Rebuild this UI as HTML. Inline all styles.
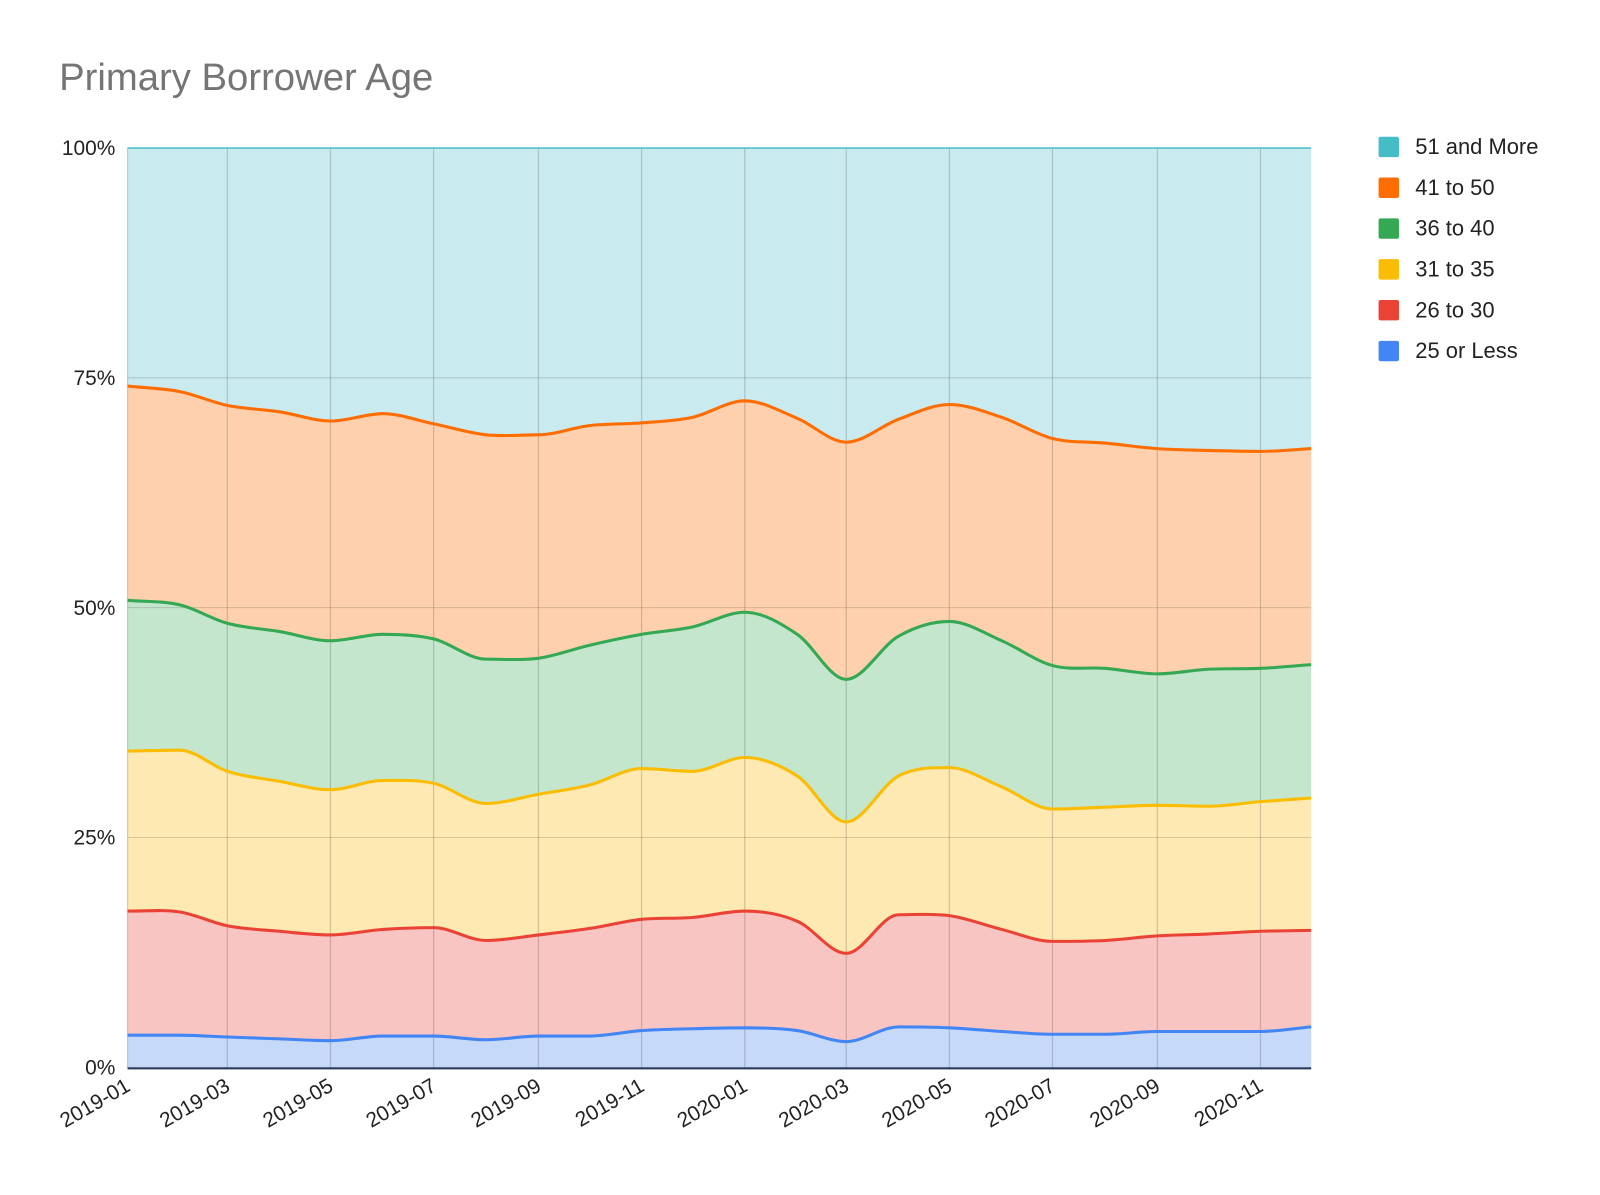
<!DOCTYPE html>
<html><head><meta charset="utf-8">
<style>
html,body{margin:0;padding:0;background:#fff;}
body{width:1600px;height:1190px;overflow:hidden;font-family:"Liberation Sans",Arial,sans-serif;}
</style></head>
<body>
<svg id="chart" width="1600" height="1190" xmlns="http://www.w3.org/2000/svg">
<g transform="scale(1.020408)">
<text x="58" y="88" font-size="37.5" fill="#757575" font-family="Liberation Sans, Arial, sans-serif">Primary Borrower Age</text>
<g id="bands"></g>
<g id="grid"></g>
<g id="lines"></g>
<g id="axes"></g>
<g id="legend"></g>
</g>
</svg>
<script>
const months = ["2019-01","2019-02","2019-03","2019-04","2019-05","2019-06","2019-07","2019-08","2019-09","2019-10","2019-11","2019-12","2020-01","2020-02","2020-03","2020-04","2020-05","2020-06","2020-07","2020-08","2020-09","2020-10","2020-11","2020-12"];
const seriesNames = ["25 or Less","26 to 30","31 to 35","36 to 40","41 to 50","51 and More"];
const age25OrLess = [3.5,3.5,3.3,3.1,2.9,3.4,3.4,3.0,3.4,3.4,4.0,4.2,4.3,4.0,2.8,4.4,4.3,3.9,3.6,3.6,3.9,3.9,3.9,4.4];
const age26to30 = [13.5,13.4,12.1,11.7,11.5,11.6,11.8,10.8,11.0,11.7,12.1,12.1,12.7,11.9,9.6,12.2,12.2,11.1,10.1,10.2,10.4,10.6,10.9,10.5];
const age31to35 = [17.4,17.6,16.8,16.3,15.8,16.2,15.7,14.9,15.3,15.6,16.4,15.9,16.7,15.8,14.3,15.1,16.1,15.5,14.4,14.5,14.2,13.9,14.1,14.4];
const age36to40 = [16.4,15.8,16.1,16.3,16.2,15.9,15.7,15.7,14.8,15.2,14.6,15.7,15.8,15.4,15.5,15.2,15.9,15.9,15.6,15.1,14.3,14.9,14.5,14.5];
const age41to50 = [23.3,23.2,23.7,23.9,23.9,24.0,23.4,24.4,24.3,23.9,23.0,22.8,23.0,23.5,25.8,23.6,23.6,24.3,24.7,24.5,24.5,23.8,23.6,23.5];
const age51Plus = [25.9,26.5,28.0,28.7,29.7,28.9,30.0,31.2,31.2,30.2,29.9,29.3,27.5,29.4,32.0,29.5,27.9,29.3,31.6,32.1,32.7,32.9,33.0,32.7];
const yTicks = [0,25,50,75,100];
const yTickLabels = ["0%","25%","50%","75%","100%"];
const xTickLabels = ["2019-01","2019-03","2019-05","2019-07","2019-09","2019-11","2020-01","2020-03","2020-05","2020-07","2020-09","2020-11"];

const series = [age25OrLess,age26to30,age31to35,age36to40,age41to50,age51Plus];
const lineColors = ["#4285f4","#ea4335","#fbbc04","#34a853","#ff6d01","#46bdc6"];
const fillColors = ["#c6d9f9","#f9c5c2","#fde9b1","#c4e6cc","#fed0ae","#c9ebef"];
const NS = "http://www.w3.org/2000/svg";
const X0=125,X1=1285,Y0=1046,Y1=145;
function toDate(m){const [y,mo]=m.split("-").map(Number);return Date.UTC(y,mo-1,1);}
const d0=toDate(months[0]),d1=toDate(months[months.length-1]);
function xScale(m){return X0+(toDate(m)-d0)/(d1-d0)*(X1-X0);}
function yScale(v){return Y0-v/100*(Y0-Y1);}
function el(tag,attrs,parent){const e=document.createElementNS(NS,tag);for(const k in attrs)e.setAttribute(k,attrs[k]);parent.appendChild(e);return e;}

const cum=[];
for(let s=0;s<series.length;s++){
  cum.push(months.map((m,i)=>{let tot=0,acc=0;for(let k=0;k<series.length;k++){tot+=series[k][i];if(k<=s)acc+=series[k][i];}return acc/tot*100;}));
}
function smooth(pts){
  const n=pts.length;const dx=[],sl=[],t=[];
  for(let i=0;i<n-1;i++){dx.push(pts[i+1][0]-pts[i][0]);sl.push((pts[i+1][1]-pts[i][1])/dx[i]);}
  t[0]=sl[0];t[n-1]=sl[n-2];
  for(let i=1;i<n-1;i++){t[i]=(sl[i-1]*sl[i]<=0)?0:(sl[i-1]+sl[i])/2;}
  let d="";
  for(let i=0;i<n-1;i++){const h=dx[i]/3;
    d+=` C${pts[i][0]+h},${pts[i][1]+t[i]*h} ${pts[i+1][0]-h},${pts[i+1][1]-t[i+1]*h} ${pts[i+1][0]},${pts[i+1][1]}`;}
  return d;
}
const bands=document.getElementById("bands"),lines=document.getElementById("lines"),grid=document.getElementById("grid"),axes=document.getElementById("axes"),legend=document.getElementById("legend");
for(let s=0;s<series.length;s++){
  const top=months.map((m,i)=>[xScale(m),yScale(cum[s][i])]);
  const bot=s===0?months.map(m=>[xScale(m),Y0]):months.map((m,i)=>[xScale(m),yScale(cum[s-1][i])]);
  const botR=bot.slice().reverse();
  const d=`M${top[0][0]},${top[0][1]}`+smooth(top)+` L${botR[0][0]},${botR[0][1]}`+smooth(botR)+"Z";
  const b=el("path",{d:d,fill:fillColors[s],stroke:"none"},bands);
  
  
}
yTicks.forEach((v,i)=>{
  const g=el("line",{x1:X0,x2:X1,y1:yScale(v),y2:yScale(v),stroke:"rgba(0,0,0,0.15)","stroke-width":1},grid);
  
  
  const t=el("text",{x:113,y:yScale(v)+7,"text-anchor":"end","font-size":20.5,fill:"#222"},axes);
  t.textContent=yTickLabels[i];
  
  
});
xTickLabels.forEach(m=>{
  const x=xScale(m);
  const g=el("line",{x1:x,x2:x,y1:Y1,y2:Y0,stroke:"rgba(0,0,0,0.17)","stroke-width":1.2},grid);
  
  
  const t=el("text",{x:x+4,y:Y0+22,"text-anchor":"end","font-size":20.5,fill:"#222",transform:`rotate(-30 ${x+4} ${Y0+22})`},axes);
  t.textContent=m;
  
  
});
for(let s=0;s<series.length;s++){
  const top=months.map((m,i)=>[xScale(m),yScale(cum[s][i])]);
  const p=el("path",{d:`M${top[0][0]},${top[0][1]}`+smooth(top),fill:"none",stroke:lineColors[s],"stroke-width":s===5?1.5:3,"stroke-linejoin":"round"},lines);
  
  
}
const base=el("line",{x1:X0,x2:X1,y1:Y0+1,y2:Y0+1,stroke:"#253858","stroke-width":2},axes);


for(let k=0;k<series.length;k++){
  const s=series.length-1-k;const y=134+k*40;
  const g=el("g",{},legend);
  
  
  el("rect",{x:1351,y:y,width:20,height:20,rx:2,fill:lineColors[s]},g);
  const t=el("text",{x:1387,y:y+17,"font-size":21.5,fill:"#222"},g);
  t.textContent=seriesNames[s];
}
</script>
</body></html>
